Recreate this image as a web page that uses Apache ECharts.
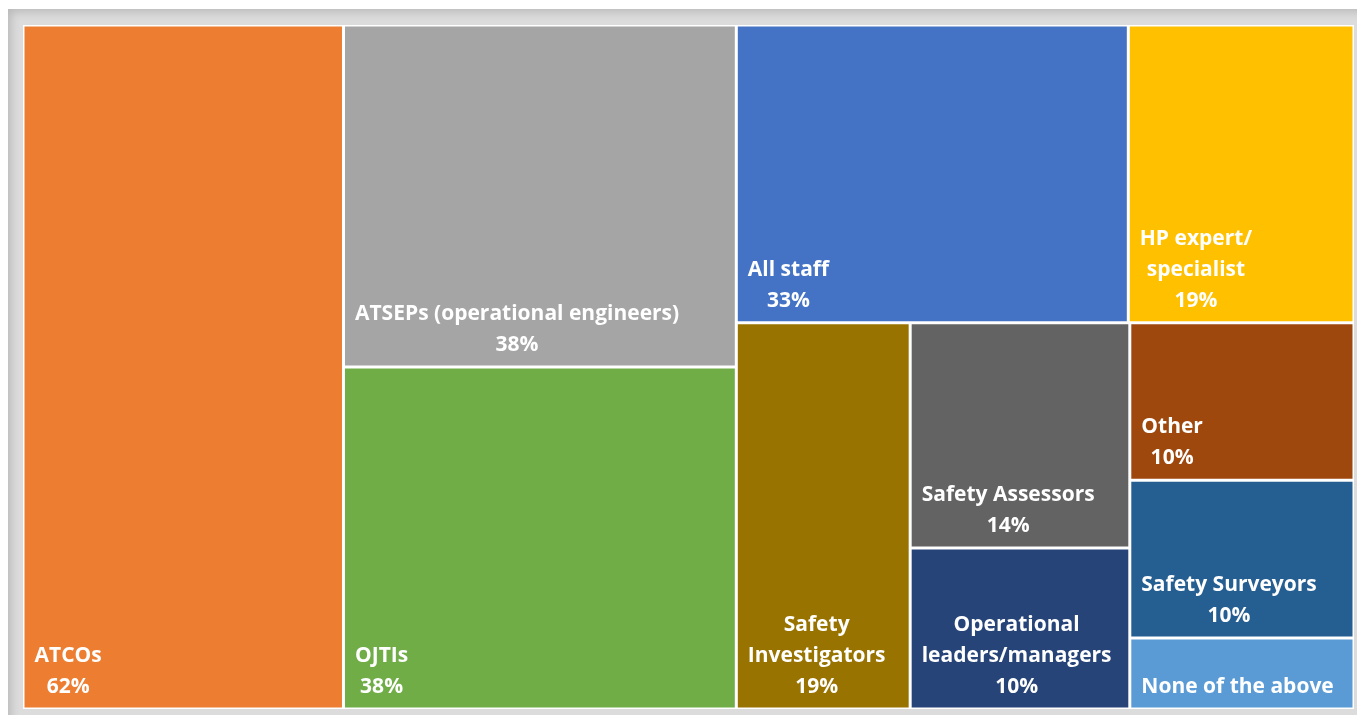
<!DOCTYPE html>
<html>
<head>
<meta charset="utf-8">
<title>Target groups treemap</title>
<script src="https://cdn.jsdelivr.net/npm/echarts@6.0.0/dist/echarts.min.js"></script>
<style>
  html, body { margin: 0; padding: 0; background: #fff; overflow: hidden; }
  #frame {
    position: absolute; left: 8px; top: 9px; width: 1360px; height: 720px;
    background: #dcdcdc;
    box-shadow: inset 3px 3px 10px rgba(0, 0, 0, 0.16);
  }
  #chart { position: absolute; left: 23px; top: 25px; width: 1331px; height: 684px; background: #fff; }
</style>
</head>
<body>
<div id="frame"></div>
<div id="chart"></div>
<script>
const categories = [
  'ATCOs', 'ATSEPs (operational engineers)', 'OJTIs', 'All staff',
  'HP expert/specialist', 'Safety Investigators', 'Safety Assessors',
  'Operational leaders/managers', 'Other', 'Safety Surveyors', 'None of the above'
]
// label text as wrapped in the picture
const labelNames = [
  'ATCOs', 'ATSEPs (operational engineers)', 'OJTIs', 'All staff',
  'HP expert/\nspecialist', 'Safety\nInvestigators', 'Safety Assessors',
  'Operational\nleaders/managers', 'Other', 'Safety Surveyors', 'None of the above'
]
const shares = [62, 38, 38, 33, 19, 19, 14, 10, 10, 10, 4.5]
const showShare = [true, true, true, true, true, true, true, true, true, true, false]

const palette = [
  '#ED7D31', '#A5A5A5', '#70AD47', '#4472C4', '#FFC000', '#997300',
  '#636363', '#264478', '#9E480E', '#255E91', '#5B9BD5'
]
// grouping of the cells (indices into categories), so squarify gives the same blocks
const arrangement = [0, [1, 2], [[3, 4], [5, [[6, 7], [8, 9, 10]]]]]

const FONT = '"Open Sans"'
const FONT_SIZE = 21
const PAD_X = 10

const ctx = document.createElement('canvas').getContext('2d')
ctx.font = 'bold ' + FONT_SIZE + 'px ' + FONT

function labelOf (i) {
  return labelNames[i] + (showShare[i] ? '\n' + shares[i] + '%' : '')
}

function leaf (i) {
  const text = labelOf(i)
  const blockW = Math.max.apply(null, text.split('\n').map(s => ctx.measureText(s).width))
  return {
    name: categories[i],
    value: shares[i],
    itemStyle: { color: palette[i], borderColor: '#fff', borderWidth: 1.5 },
    label: { formatter: text, position: [PAD_X + blockW / 2, '100%'] }
  }
}

function build (n) {
  return Array.isArray(n) ? { name: '', children: n.map(build) } : leaf(n)
}

const chart = echarts.init(document.getElementById('chart'))
chart.setOption({
  animation: false,
  series: [{
    type: 'treemap',
    left: 0,
    top: 0,
    right: 0,
    bottom: 0,
    roam: false,
    nodeClick: false,
    sort: false,
    squareRatio: 0.5,
    breadcrumb: { show: false },
    upperLabel: { show: false },
    itemStyle: { borderColor: '#fff', borderWidth: 0, gapWidth: 0 },
    label: {
      show: true,
      color: '#fff',
      fontFamily: FONT,
      fontWeight: 'bold',
      fontSize: FONT_SIZE,
      lineHeight: 31,
      align: 'center',
      verticalAlign: 'bottom',
      padding: [0, 0, 5, 0]
    },
    data: arrangement.map(build)
  }]
})
</script>
</body>
</html>
